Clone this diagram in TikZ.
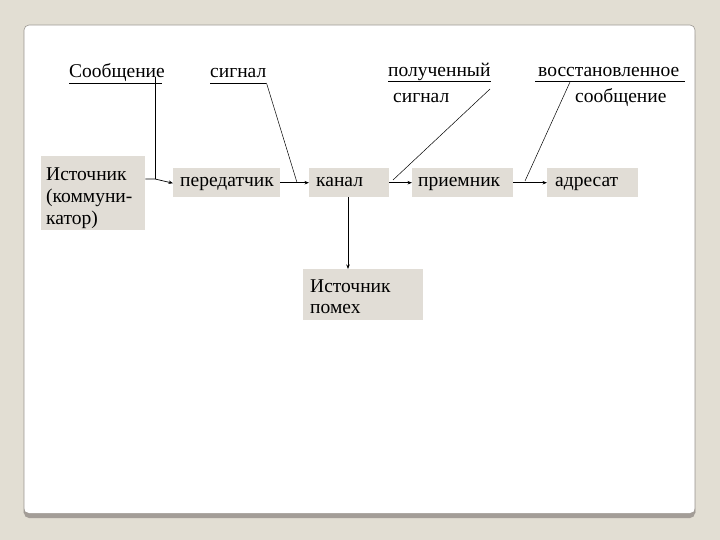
\documentclass[tikz,border=0pt]{standalone}
\usepackage{fontspec}
\setmainfont{Liberation Serif}
\newfontfamily\timesru{Liberation Serif}
\usetikzlibrary{arrows.meta,calc}
\definecolor{slidebg}{HTML}{E2DED3}
\definecolor{boxc}{HTML}{E1DDD6}
\definecolor{shadowc}{HTML}{A39D97}
\definecolor{panelline}{HTML}{9A9690}
\begin{document}
\begin{tikzpicture}[x=1pt,y=-1pt,
  txt/.style={font=\timesru\fontsize{19.5}{22}\selectfont},
  box/.style={fill=boxc,inner sep=0pt,anchor=north west},
  intxt/.style={txt,inner sep=0pt,anchor=base west,align=left},
  lbl/.style={txt,inner sep=0pt,anchor=base west},
  conn/.style={draw=black,line width=0.7pt},
  arr/.style={conn,-{Stealth[length=4.5pt,width=3.5pt]}}]
\useasboundingbox (0,0) rectangle (720,540);
\fill[slidebg] (0,0) rectangle (720,540);
% panel
\fill[shadowc,rounded corners=5pt] (24,30) rectangle (695,518);
\fill[white,rounded corners=5pt] (24,25) rectangle (695,513);
\draw[panelline,line width=0.6pt,rounded corners=5pt] (24,513) -- (24,25) -- (695,25) -- (695,513);
% boxes
\node[box,minimum width=104pt,minimum height=74pt] (src) at (41,156) {};
\node[box,minimum width=107pt,minimum height=29pt] (tx) at (173,168) {};
\node[box,minimum width=80pt,minimum height=29pt] (ch) at (309,168) {};
\node[box,minimum width=101pt,minimum height=29pt] (rx) at (412,168) {};
\node[box,minimum width=91pt,minimum height=29pt] (dst) at (547,168) {};
\node[box,minimum width=120pt,minimum height=51pt] (noise) at (303,269) {};
% box texts (base = baseline of last line)
\node[intxt] (srcT) at (46,225) {Источник\\(коммуни-\\катор)};
\node[intxt] (txT) at (180,187) {передатчик};
\node[intxt] (chT) at (316,187) {канал};
\node[intxt] (rxT) at (418,187) {приемник};
\node[intxt] (dstT) at (555,187) {адресат};
\node[intxt,font=\timesru\fontsize{19.5}{21}\selectfont] (noiseT) at (310,313) {Источник\\помех};
% labels
\node[lbl] (msg) at (69,78) {Сообщение};
\node[lbl] (sig) at (210,78) {сигнал};
\node[lbl] (rsig1) at (388,77) {полученный};
\node[lbl] (rsig2) at (393,103) {сигнал};
\node[lbl] (rmsg1) at (538,77) {восстановленное};
\node[lbl] (rmsg2) at (575,103) {сообщение};
% underlines
\draw[conn] ($(msg.base west)+(0,5)$) -- ($(msg.base east)+(-3,5)$);
\draw[conn] ($(sig.base west)+(0,5)$) coordinate (sigA) -- ($(sig.base east)+(0,5)$) coordinate (sigB);
\draw[conn] ($(rsig1.base west)+(0,4)$) -- ($(rsig1.base east)+(0,4)$);
\draw[conn] ($(rmsg1.base west)+(-3,4)$) -- ($(rmsg1.base east)+(6,4)$);
% arrows between boxes
\coordinate (j1) at (155,179);
\draw[arr] ($(src.north east)+(0,23)$) -- (j1) -- ($(tx.west)+(0,0.5)$);
\coordinate (j2) at (297,182.5);
\draw[arr] (tx.east) -- (ch.west);
\coordinate (j3) at (393,180);
\draw[arr] (ch.east) -- (rx.west);
\coordinate (j4) at (525,181);
\draw[arr] (rx.east) -- (dst.west);
\draw[arr] (ch.south -| 348,0) -- (noise.north -| 348,0);
% label leaders
\draw[conn,line width=0.6pt] (155,77) -- (j1);
\draw[conn,line width=0.5pt] (sigB) -- (j2);
\draw[conn,line width=0.5pt] (490,89) -- (j3);
\draw[conn,line width=0.5pt] (570,82) -- (j4);
\end{tikzpicture}
\end{document}
